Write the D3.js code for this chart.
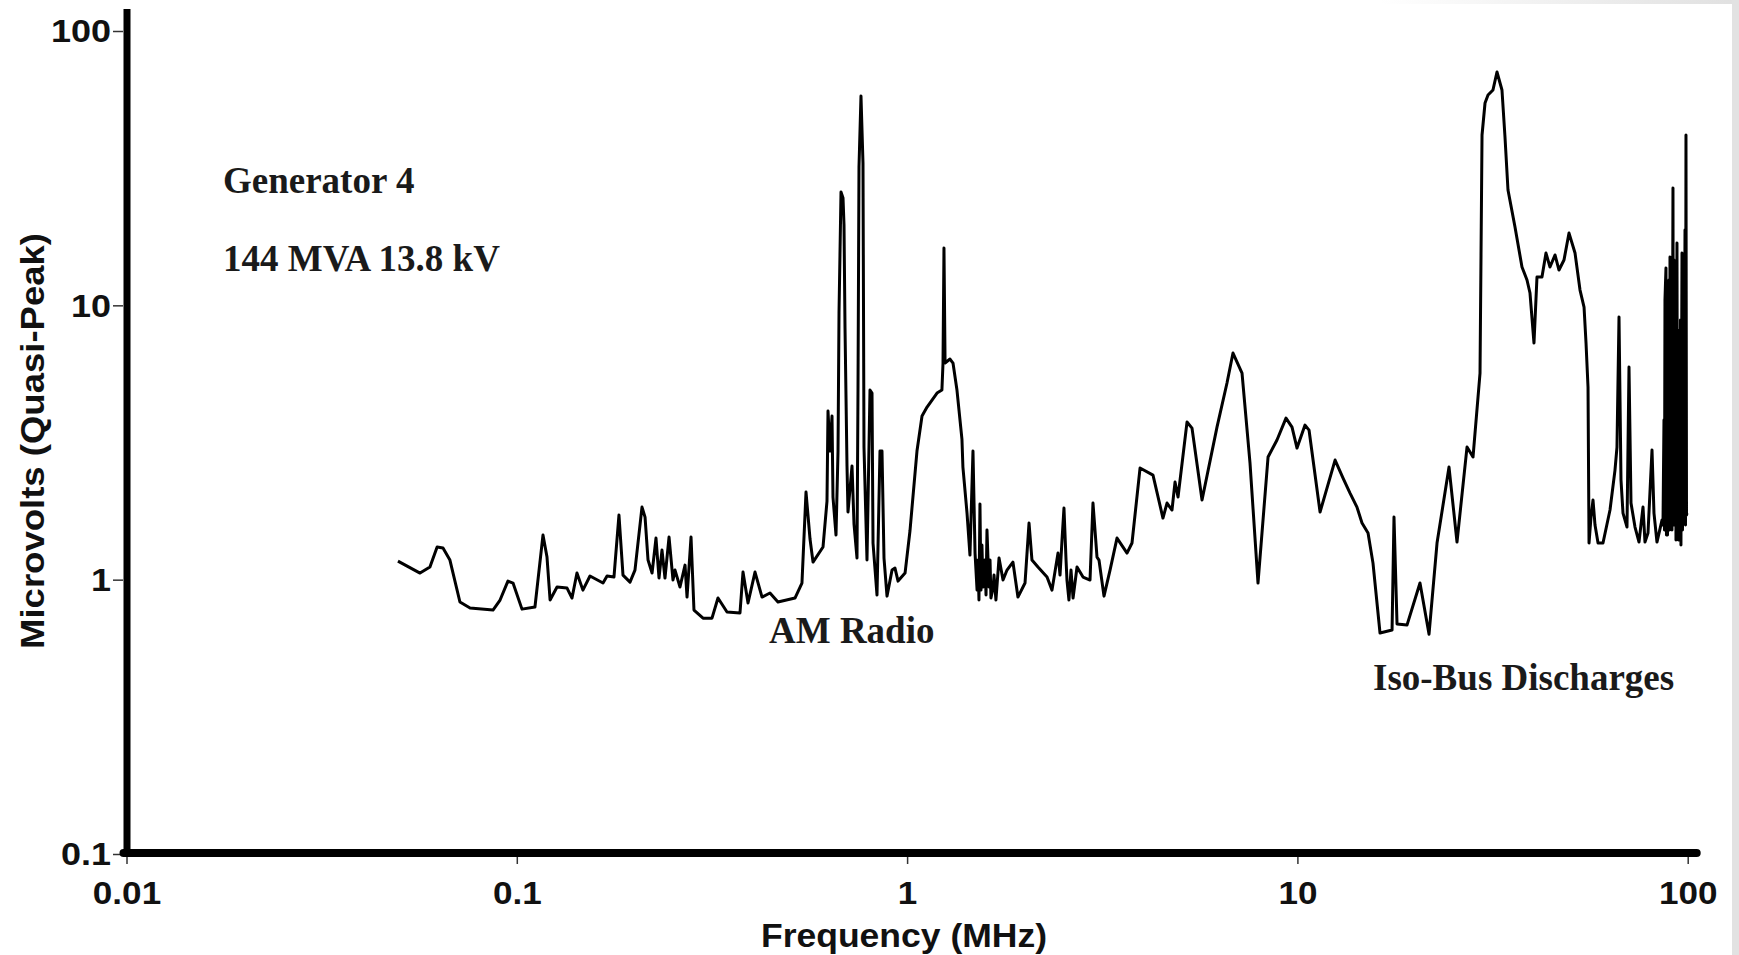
<!DOCTYPE html>
<html>
<head>
<meta charset="utf-8">
<script src="https://cdn.jsdelivr.net/npm/d3@7"></script>
<style>
  html, body { margin: 0; padding: 0; background: #ffffff; }
  svg { display: block; }
</style>
</head>
<body>
<svg id="chart" width="1739" height="955"></svg>
<script>
// Quasi-peak RFI spectrum, Generator 4 (144 MVA, 13.8 kV)
const freqMHz = [
  0.0496, 0.0565, 0.0599, 0.0625, 0.0647, 0.0674, 0.0715, 0.0759, 0.0869, 0.0906,
  0.0949, 0.0978, 0.1031, 0.1113, 0.1167, 0.1195, 0.1217, 0.1268, 0.1345, 0.1385,
  0.1426, 0.1477, 0.1540, 0.1663, 0.1703, 0.1774, 0.1827, 0.1871, 0.1950, 0.2008,
  0.2093, 0.2131, 0.2169, 0.2221, 0.2273, 0.2314, 0.2355, 0.2397, 0.2455, 0.2513,
  0.2543, 0.2619, 0.2698, 0.2730, 0.2795, 0.2844, 0.3000, 0.3163, 0.3277, 0.3456,
  0.3731, 0.3798, 0.3912, 0.4077, 0.4249, 0.4453, 0.4668, 0.5161, 0.5378, 0.5508,
  0.5640, 0.5741, 0.6089, 0.6234, 0.6271, 0.6345, 0.6421, 0.6458, 0.6574, 0.6653,
  0.6692, 0.6771, 0.6852, 0.6892, 0.6933, 0.7015, 0.7056, 0.7225, 0.7311, 0.7441,
  0.7485, 0.7529, 0.7618, 0.7709, 0.7754, 0.7893, 0.8034, 0.8130, 0.8179, 0.8373,
  0.8522, 0.8623, 0.8726, 0.8882, 0.915, 0.931, 0.948, 0.988, 1.017, 1.060,
  1.092, 1.125, 1.193, 1.228, 1.236, 1.243, 1.251, 1.288, 1.311, 1.342,
  1.382, 1.390, 1.424, 1.449, 1.475, 1.493, 1.511, 1.519, 1.528, 1.537,
  1.546, 1.555, 1.565, 1.583, 1.593, 1.602, 1.621, 1.631, 1.640, 1.660,
  1.670, 1.689, 1.720, 1.761, 1.803, 1.867, 1.923, 2.005, 2.053, 2.089,
  2.164, 2.283, 2.351, 2.436, 2.465, 2.494, 2.523, 2.554, 2.568, 2.598,
  2.630, 2.662, 2.725, 2.823, 2.942,
  2.994, 3.066, 3.102, 3.195, 3.311, 3.450, 3.660, 3.769, 3.952, 4.266,
  4.524, 4.634, 4.772, 4.858, 4.945, 5.214, 5.37, 5.697, 6.223, 6.601,
  6.839, 7.213, 7.561, 7.926, 8.41, 8.866, 9.35, 9.687, 9.977, 10.46,
  10.71, 11.43, 12.49, 13.09, 13.64, 14.21, 14.64, 15.17, 15.62, 16.28,
  17.48, 17.68, 18.0, 19.09, 20.61, 21.74, 22.79, 24.46, 25.64, 27.2,
  28.18, 29.37, 29.72, 30.25, 30.79, 31.70, 32.46, 33.43, 34.03, 34.64,
  36.10, 37.62, 38.75, 39.44, 40.38, 41.10, 42.33, 43.34, 44.38, 45.71,
  46.80, 48.20, 49.65, 51.44, 52.98, 54.25, 54.89, 55.54, 55.87, 56.52,
  57.2, 57.88, 58.92, 60.67, 63.23, 65.12, 65.89, 66.68, 67.47, 68.27,
  69.9, 70.73, 71.57, 73.28, 75.03, 76.82, 77.73, 79.12, 81.01, 81.96,
  83.42, 85.93,
  86.43, 86.94, 87.2, 87.45, 87.97, 88.23, 88.5, 88.76, 89.02, 89.55,
  89.82, 90.08, 90.61, 90.88, 91.14, 91.68, 91.95, 92.22, 92.77, 93.04,
  93.32, 93.87, 94.15, 94.43, 94.70, 94.98, 95.54, 95.82, 96.1, 96.69,
  96.96, 97.25, 97.83, 98.42, 98.7, 98.99, 99.29, 99.59
];

const quasiPeakUV = [
  1.169, 1.057, 1.112, 1.315, 1.304, 1.179, 0.829, 0.788, 0.775, 0.843,
  0.988, 0.972, 0.781, 0.795, 1.454, 1.209, 0.843, 0.940, 0.932, 0.857,
  1.057, 0.916, 1.031, 0.972, 1.031, 1.022, 1.720, 1.039, 0.980, 1.084,
  1.839, 1.691, 1.179, 1.057, 1.418, 1.014, 1.282, 1.014, 1.430, 0.997,
  1.084, 0.940, 1.130, 0.864, 1.430, 0.775, 0.724, 0.724, 0.857, 0.762,
  0.756, 1.066, 0.822, 1.066, 0.864, 0.894, 0.829, 0.857, 0.972, 2.086,
  1.406, 1.159, 1.315, 1.934, 4.12, 2.943, 3.948, 2.001, 1.454, 2.943,
  9.375, 25.88, 24.62, 19.62, 8.265, 2.595, 1.764, 2.595, 1.595, 1.199,
  4.912, 31.93, 57.94, 33.02, 3.043, 1.179, 4.912, 4.79, 1.36, 0.879,
  2.943, 2.943, 1.199, 0.871, 1.084, 1.102, 0.988, 1.057, 1.504, 2.943,
  3.948, 4.259, 4.79, 4.912, 6.161, 16.18, 6.161, 6.372, 6.161, 4.912,
  3.255, 2.573, 1.749, 1.229, 2.943, 1.250, 0.916, 1.179, 0.843, 1.886,
  0.916, 1.337, 0.940, 1.179, 0.879, 1.516, 0.940, 1.179, 0.857, 0.932,
  1.039, 0.843, 1.199, 0.997, 1.084, 1.159, 0.864, 0.972, 1.608, 1.179,
  1.112, 1.022, 0.916, 1.250, 1.039, 1.394, 1.824, 1.179, 0.997, 0.843,
  1.084, 0.857, 1.112, 1.022, 0.997,
  1.902, 1.209, 1.179, 0.871, 1.084, 1.418, 1.250, 1.36, 2.552, 2.406,
  1.677, 1.902, 1.794, 2.269, 2.001, 3.754, 3.569, 1.951, 3.599, 5.209,
  6.701, 5.664, 2.662, 0.972, 2.799, 3.228, 3.882, 3.599, 3.018, 3.66,
  3.51, 1.764, 2.729, 2.346, 2.069, 1.839, 1.608, 1.479, 1.149, 0.639,
  0.655, 1.691, 0.689, 0.683, 0.972, 0.633, 1.36, 2.573, 1.371, 3.043,
  2.799, 5.664, 41.77, 54.64, 58.44, 60.95, 70.87, 60.95, 41.07, 26.33,
  19.30, 13.79, 12.37, 11.09, 7.288, 12.68, 12.68, 15.51, 13.79, 15.26,
  13.45, 14.63, 18.34, 15.51, 11.37, 9.858, 7.288, 5.038, 1.36, 1.691,
  1.951, 1.581, 1.36, 1.36, 1.794, 2.509, 3.043, 9.064, 2.307, 1.749,
  1.555, 5.959, 1.902, 1.555, 1.371, 1.839, 1.371, 1.479, 2.969, 1.749,
  1.371, 1.649,
  1.581, 3.819, 1.516, 10.45, 13.68, 1.454, 4.912, 1.454, 6.871, 12.37,
  1.516, 15.0, 1.649, 10.45, 1.516, 26.77, 1.581, 14.63, 1.649, 10.45,
  1.394, 16.87, 1.454, 8.128, 1.394, 4.404, 1.516, 8.84, 1.337, 15.51,
  1.516, 12.37, 1.691, 18.81, 1.581, 41.77, 1.72, 1.749
];

const xTickValues = [0.01, 0.1, 1, 10, 100];
const xTickLabels = ["0.01", "0.1", "1", "10", "100"];
const yTickValues = [0.1, 1, 10, 100];
const yTickLabels = ["0.1", "1", "10", "100"];

const xTitle = "Frequency (MHz)";
const yTitle = "Microvolts (Quasi-Peak)";
const noteLabels = ["Generator 4", "144 MVA 13.8 kV", "AM Radio", "Iso-Bus Discharges"];

// ---- layout ----
const W = 1739, H = 955;
const plot = { left: 126.5, right: 1687.7, top: 31, bottom: 854 };
const notePos = [[223, 193], [223, 271], [769, 643], [1373, 690]];
const SANS = "'Liberation Sans', Arial, Helvetica, sans-serif";
const SERIF = "'Liberation Serif', 'Times New Roman', Times, serif";

const svg = d3.select("#chart");

// faint grey frame on the top-right edge
const defs = svg.append("defs");
const grad = defs.append("linearGradient").attr("id", "edgeFade")
  .attr("x1", "0").attr("x2", "1").attr("y1", "0").attr("y2", "0");
grad.append("stop").attr("offset", "0").attr("stop-color", "#ffffff");
grad.append("stop").attr("offset", "1").attr("stop-color", "#e0e0e0");
svg.append("rect").attr("x", 1380).attr("y", 0).attr("width", W - 1380).attr("height", 4)
  .attr("fill", "url(#edgeFade)");
svg.append("rect").attr("x", 1732).attr("y", 0).attr("width", W - 1732).attr("height", H)
  .attr("fill", "#e2e2e2");

const x = d3.scaleLog().domain([0.01, 100]).range([plot.left, plot.right]);
const y = d3.scaleLog().domain([0.1, 100]).range([plot.bottom, plot.top]);

function widen(sel, factor) {
  sel.each(function () {
    const w = this.getComputedTextLength();
    this.setAttribute("textLength", (w * factor).toFixed(1));
    this.setAttribute("lengthAdjust", "spacingAndGlyphs");
  });
}

// x axis ticks + labels
const gx = svg.append("g").attr("transform", `translate(0,${plot.bottom + 2})`)
  .call(d3.axisBottom(x).tickValues(xTickValues)
    .tickFormat((d, i) => xTickLabels[i]).tickSize(8).tickPadding(0));
gx.select(".domain").remove();
gx.selectAll(".tick line").attr("stroke", "#333").attr("stroke-width", 1.5);
gx.selectAll(".tick text")
  .attr("y", 48).attr("dy", 0)
  .attr("font-family", SANS).attr("font-weight", "bold").attr("font-size", 30.5)
  .attr("fill", "#111")
  .call(widen, 1.15);

// y axis ticks + labels
const gy = svg.append("g").attr("transform", `translate(${plot.left - 3.5},0)`)
  .call(d3.axisLeft(y).tickValues(yTickValues)
    .tickFormat((d, i) => yTickLabels[i]).tickSize(10).tickPadding(0));
gy.select(".domain").remove();
gy.selectAll(".tick line").attr("stroke", "#333").attr("stroke-width", 1.5);
gy.selectAll(".tick text")
  .attr("x", -12).attr("dy", "0.36em")
  .attr("font-family", SANS).attr("font-weight", "bold").attr("font-size", 30.5)
  .attr("fill", "#111")
  .call(widen, 1.18);

// heavy axis lines
svg.append("line")
  .attr("x1", plot.left + 0.5).attr("x2", plot.left + 0.5)
  .attr("y1", plot.top - 22).attr("y2", plot.bottom + 3)
  .attr("stroke", "#000").attr("stroke-width", 7);
svg.append("line")
  .attr("x1", plot.left - 3).attr("x2", plot.right + 9)
  .attr("y1", plot.bottom - 1).attr("y2", plot.bottom - 1)
  .attr("stroke", "#000").attr("stroke-width", 8).attr("stroke-linecap", "round");

// spectrum trace
const series = freqMHz.map((f, i) => ({ f, v: quasiPeakUV[i] }));
const line = d3.line().x(d => x(d.f)).y(d => y(d.v));
svg.append("path").datum(series)
  .attr("d", line)
  .attr("fill", "none")
  .attr("stroke", "#000")
  .attr("stroke-width", 3)
  .attr("stroke-linejoin", "round");

// axis titles
svg.append("text")
  .attr("x", 904).attr("y", 947)
  .attr("text-anchor", "middle")
  .attr("font-family", SANS).attr("font-weight", "bold").attr("font-size", 33)
  .attr("fill", "#111")
  .attr("textLength", 286).attr("lengthAdjust", "spacingAndGlyphs")
  .text(xTitle);
svg.append("text")
  .attr("transform", "translate(44,441) rotate(-90)")
  .attr("text-anchor", "middle")
  .attr("font-family", SANS).attr("font-weight", "bold").attr("font-size", 34)
  .attr("fill", "#111")
  .attr("textLength", 416).attr("lengthAdjust", "spacingAndGlyphs")
  .text(yTitle);

// annotations
svg.append("g").selectAll("text").data(noteLabels).join("text")
  .attr("x", (d, i) => notePos[i][0])
  .attr("y", (d, i) => notePos[i][1])
  .attr("font-family", SERIF).attr("font-weight", "bold").attr("font-size", 37)
  .attr("fill", "#1a1a1a")
  .text(d => d);
</script>
</body>
</html>
